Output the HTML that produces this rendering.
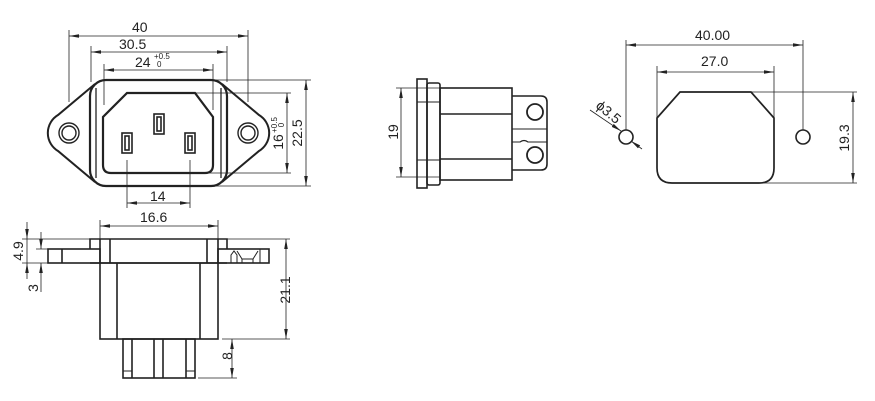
<html><head><style>body{margin:0;background:#fff}svg{display:block}text{font-family:"Liberation Sans",Arial,sans-serif;fill:#222}</style></head><body>
<svg width="875" height="401" viewBox="0 0 875 401" xmlns="http://www.w3.org/2000/svg">
<defs><marker id="a" viewBox="0 0 10 6" refX="10" refY="3" markerWidth="10" markerHeight="6" orient="auto-start-reverse" markerUnits="userSpaceOnUse"><path d="M0,1.2L10,3L0,4.8z" fill="#222"/></marker></defs>
<g fill="none" stroke="#222">
<g stroke-width="0.8">
<line x1="69" y1="30" x2="69" y2="102"/><line x1="248" y1="30" x2="248" y2="102"/>
<line x1="69" y1="36" x2="248" y2="36" marker-start="url(#a)" marker-end="url(#a)"/>
<line x1="91" y1="46" x2="91" y2="82"/><line x1="227" y1="46" x2="227" y2="82"/>
<line x1="91" y1="52" x2="227" y2="52" marker-start="url(#a)" marker-end="url(#a)"/>
<line x1="104" y1="64" x2="104" y2="105"/><line x1="213" y1="64" x2="213" y2="110"/>
<line x1="104" y1="70" x2="213" y2="70" marker-start="url(#a)" marker-end="url(#a)"/>
<line x1="215" y1="80" x2="311" y2="80"/><line x1="215" y1="186" x2="311" y2="186"/>
<line x1="306" y1="80" x2="306" y2="186" marker-start="url(#a)" marker-end="url(#a)"/>
<line x1="195" y1="93" x2="291" y2="93"/><line x1="205" y1="173" x2="291" y2="173"/>
<line x1="287" y1="93" x2="287" y2="173" marker-start="url(#a)" marker-end="url(#a)"/>
<line x1="127" y1="160" x2="127" y2="208"/><line x1="190" y1="160" x2="190" y2="208"/>
<line x1="127" y1="203" x2="190" y2="203" marker-start="url(#a)" marker-end="url(#a)"/>
</g>
<path stroke-width="2" d="M95,84 L58,115 A21,21 0 0 0 58,151 L95,182"/>
<path stroke-width="2" d="M222,84 L259,115 A21,21 0 0 1 259,151 L222,182"/>
<circle cx="69" cy="133" r="10" stroke-width="1.4"/><circle cx="69" cy="133" r="7" stroke-width="1.4"/>
<circle cx="248" cy="133" r="10" stroke-width="1.4"/><circle cx="248" cy="133" r="7" stroke-width="1.4"/>
<rect x="90" y="80" width="137" height="106" rx="16" stroke-width="2.2"/>
<line x1="96" y1="88" x2="96" y2="178" stroke-width="1.3"/><line x1="221" y1="88" x2="221" y2="178" stroke-width="1.3"/>
<path stroke-width="2.2" d="M127,93 L195,93 L213,117 L213,165 Q213,173 205,173 L111,173 Q103,173 103,165 L103,117 Z"/>
<g stroke-width="1.6"><rect x="154" y="114" width="10" height="20"/><rect x="157" y="117" width="4" height="14"/>
<rect x="122" y="133" width="10" height="20"/><rect x="125" y="136" width="4" height="14"/>
<rect x="185" y="133" width="10" height="20"/><rect x="188" y="136" width="4" height="14"/></g>
<g stroke-width="0.8">
<line x1="100" y1="220" x2="100" y2="240"/><line x1="218" y1="220" x2="218" y2="240"/>
<line x1="100" y1="226" x2="218" y2="226" marker-start="url(#a)" marker-end="url(#a)"/>
<line x1="22" y1="239" x2="90" y2="239"/><line x1="22" y1="263" x2="48" y2="263"/><line x1="36" y1="249" x2="90" y2="249"/>
<line x1="27" y1="222" x2="27" y2="239" marker-end="url(#a)"/><line x1="27" y1="279" x2="27" y2="263" marker-end="url(#a)"/><line x1="27" y1="239" x2="27" y2="263"/>
<line x1="41" y1="232" x2="41" y2="249" marker-end="url(#a)"/><line x1="41" y1="292" x2="41" y2="263" marker-end="url(#a)"/>
<line x1="227" y1="239" x2="290" y2="239"/><line x1="222" y1="339" x2="290" y2="339"/>
<line x1="286" y1="239" x2="286" y2="339" marker-start="url(#a)" marker-end="url(#a)"/>
<line x1="198" y1="378" x2="237" y2="378"/>
<line x1="232" y1="339" x2="232" y2="378" marker-start="url(#a)" marker-end="url(#a)"/>
</g>
<g stroke-width="1.6">
<path d="M90,249 L90,239 L227,239 L227,249"/>
<rect x="48" y="249" width="52" height="14"/><line x1="62" y1="249" x2="62" y2="263"/>
<rect x="218" y="249" width="51" height="14"/>
<line x1="100" y1="239" x2="100" y2="263"/><line x1="110" y1="239" x2="110" y2="263"/><line x1="207" y1="239" x2="207" y2="263"/><line x1="218" y1="239" x2="218" y2="263"/>
<line x1="90" y1="263" x2="227" y2="263"/>
<path d="M231,263 L231,255 L234,251 L237,255 L237,263 M237,251 L242,259 L253,259 L258,251 M242,259 L242,263 M253,259 L253,263 M260,249 L260,263" stroke-width="1"/>
<rect x="100" y="263" width="118" height="76"/><line x1="117" y1="263" x2="117" y2="339"/><line x1="200" y1="263" x2="200" y2="339"/>
<rect x="123" y="339" width="72" height="39"/>
<line x1="132" y1="339" x2="132" y2="378"/><line x1="154" y1="339" x2="154" y2="378"/><line x1="163" y1="339" x2="163" y2="378"/><line x1="186" y1="339" x2="186" y2="378"/>
<line x1="123" y1="371" x2="132" y2="371" stroke-width="1"/><line x1="186" y1="371" x2="195" y2="371" stroke-width="1"/>
</g>
<g stroke-width="0.8"><line x1="396" y1="88" x2="440" y2="88"/><line x1="396" y1="177" x2="440" y2="177"/>
<line x1="401" y1="88" x2="401" y2="177" marker-start="url(#a)" marker-end="url(#a)"/></g>
<g stroke-width="1.6">
<rect x="417" y="79" width="10" height="109"/>
<rect x="427" y="83" width="13" height="102" rx="2"/>
<line x1="417" y1="102" x2="440" y2="102" stroke-width="1"/><line x1="417" y1="160" x2="440" y2="160" stroke-width="1"/>
<rect x="440" y="88" width="72" height="92"/>
<line x1="440" y1="114" x2="512" y2="114"/><line x1="440" y1="159" x2="512" y2="159"/>
<path d="M512,96 L541,96 Q547,96 547,102 L547,164 Q547,170 541,170 L512,170"/>
<path d="M512,129 L547,129 M512,142 L520,142 Q524,139 528,142 L547,142" stroke-width="1.1"/>
<circle cx="535" cy="112" r="8" stroke-width="1.8"/><circle cx="535" cy="155" r="8" stroke-width="1.8"/>
</g>
<g stroke-width="0.8">
<line x1="626" y1="40" x2="626" y2="130"/><line x1="803" y1="40" x2="803" y2="130"/>
<line x1="626" y1="45" x2="803" y2="45" marker-start="url(#a)" marker-end="url(#a)"/>
<line x1="657" y1="66" x2="657" y2="118"/><line x1="774" y1="66" x2="774" y2="118"/>
<line x1="657" y1="72" x2="774" y2="72" marker-start="url(#a)" marker-end="url(#a)"/>
<line x1="751" y1="92" x2="857" y2="92"/><line x1="760" y1="183" x2="857" y2="183"/>
<line x1="853" y1="92" x2="853" y2="183" marker-start="url(#a)" marker-end="url(#a)"/>
<line x1="590" y1="110" x2="621" y2="131" marker-end="url(#a)"/><line x1="642" y1="149" x2="631" y2="141" marker-end="url(#a)"/>
</g>
<path stroke-width="1.7" d="M680,92 L751,92 L774,118 L774,168 Q774,183 759,183 L672,183 Q657,183 657,168 L657,118 Z"/>
<circle cx="626" cy="137" r="7" stroke-width="1.6"/><circle cx="803" cy="137" r="7" stroke-width="1.6"/>
</g>
<g font-size="14">
<text x="132" y="32">40</text><text x="119" y="49">30.5</text>
<text x="135" y="67">24</text><text x="154" y="59" font-size="8">+0.5</text><text x="157" y="67" font-size="8">0</text>
<text x="150" y="201">14</text>
<text transform="translate(302,133) rotate(-90)" text-anchor="middle">22.5</text>
<text transform="translate(283,142) rotate(-90)" text-anchor="middle">16</text>
<text transform="translate(277,125) rotate(-90)" text-anchor="middle" font-size="8">+0.5</text>
<text transform="translate(284,125) rotate(-90)" text-anchor="middle" font-size="8">0</text>
<text x="140" y="222">16.6</text>
<text transform="translate(23,251) rotate(-90)" text-anchor="middle">4.9</text>
<text transform="translate(38,288) rotate(-90)" text-anchor="middle">3</text>
<text transform="translate(290,290) rotate(-90)" text-anchor="middle">21.1</text>
<text transform="translate(232,356) rotate(-90)" text-anchor="middle">8</text>
<text transform="translate(398,132) rotate(-90)" text-anchor="middle">19</text>
<text x="695" y="40">40.00</text><text x="701" y="66">27.0</text>
<text transform="translate(849,138) rotate(-90)" text-anchor="middle">19.3</text>
<text transform="translate(595,107) rotate(40)">ϕ3.5</text>
</g>
</svg></body></html>
